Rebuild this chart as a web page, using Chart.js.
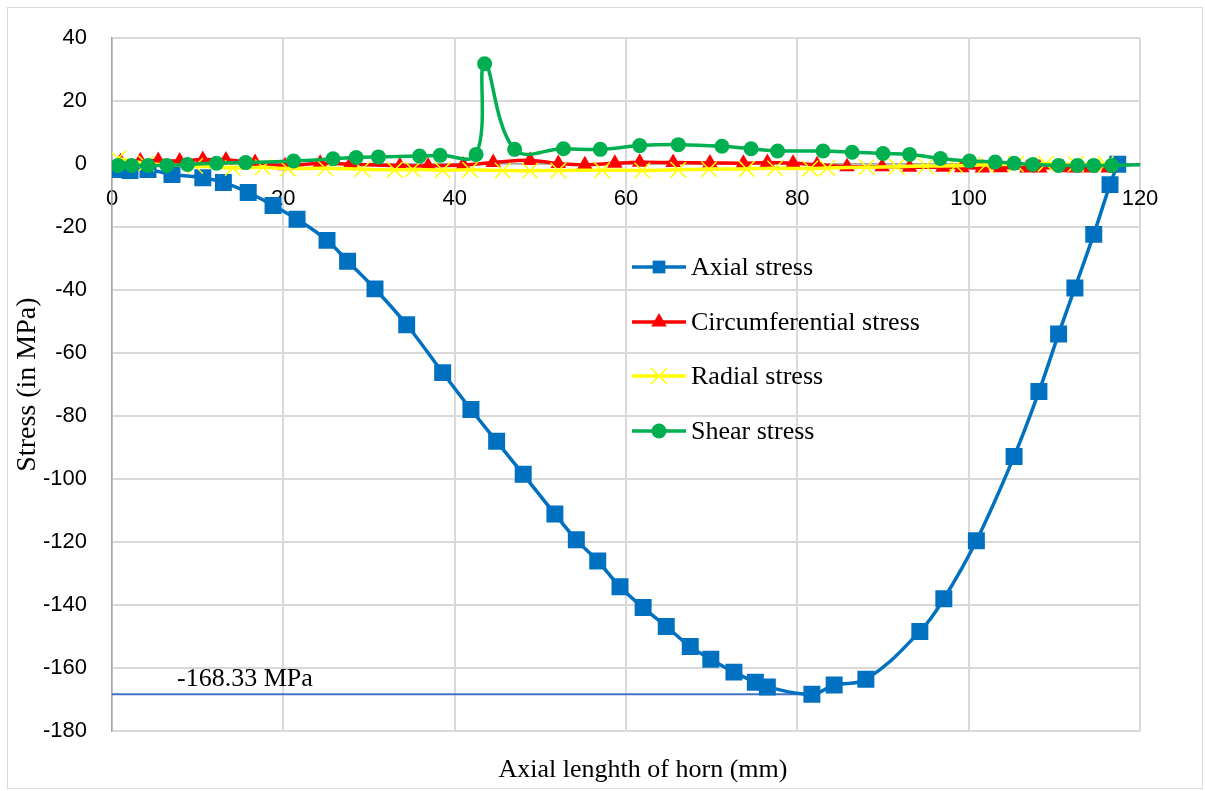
<!DOCTYPE html>
<html>
<head>
<meta charset="utf-8">
<script src="https://cdn.jsdelivr.net/npm/chart.js"></script>
<style>
    body { margin: 0; background: #fff; }
    #wrap { position: relative; width: 1205px; height: 791px; }
</style>
</head>
<body>
<div id="wrap"><canvas id="stress" width="1205" height="791"></canvas></div>
<script>
// values (x = axial position in mm, y = stress in MPa)
const axialX = [0.6, 2.1, 4.2, 7.0, 10.6, 13.0, 15.9, 18.8, 21.6, 25.1, 27.5, 30.7, 34.4, 38.6, 41.9, 44.9, 48.0, 51.7, 54.2, 56.7, 59.3, 62.0, 64.7, 67.5, 69.9, 72.6, 75.1, 76.5, 81.7, 84.3, 88.0, 94.3, 97.1, 100.9, 105.3, 108.2, 110.5, 112.4, 114.6, 116.5, 117.4]
const axialY = [-1.7, -2.0, -1.7, -3.3, -4.3, -5.8, -9.0, -13.1, -17.5, -24.2, -30.8, -39.6, -51.0, -66.2, -77.9, -88.0, -98.5, -111.1, -119.3, -126.0, -134.2, -140.8, -146.8, -153.2, -157.2, -161.3, -164.5, -166.0, -168.33, -165.4, -163.6, -148.4, -138.0, -119.6, -92.8, -72.2, -53.9, -39.3, -22.3, -6.5, 0.0]

const circX = [1.0, 3.3, 5.4, 7.9, 10.6, 13.3, 16.7, 20.2, 24.3, 27.8, 33.6, 36.9, 41.0, 44.5, 48.8, 52.1, 55.2, 58.7, 61.6, 65.5, 69.8, 73.7, 76.5, 79.5, 82.3, 85.8, 89.9, 93.1, 97.0, 99.2, 101.6, 103.7, 106.8, 108.3, 111.0, 112.4, 114.2, 116.3]
const circY = [0.8, 1.0, 1.2, 1.0, 1.5, 1.3, 0.5, -0.5, 0.3, 0.0, -0.5, -0.6, -0.3, 0.5, 1.2, 0.2, -0.2, 0.3, 0.6, 0.5, 0.4, 0.3, 0.5, 0.3, -0.2, -0.8, -0.8, -1.0, -1.0, -1.1, -1.2, -1.1, -1.2, -1.2, -1.1, -1.2, -1.2, -1.2]

const radialX = [0.7, 4.0, 9.7, 14.1, 17.6, 20.5, 24.9, 29.2, 33.0, 35.1, 38.6, 41.8, 45.6, 48.8, 52.1, 57.2, 61.9, 66.1, 69.7, 74.1, 77.4, 81.5, 83.5, 88.1, 91.6, 95.0, 98.5, 102.0, 105.5, 109.0, 112.5, 116.0]
const radialY = [1.8, 0.2, -0.6, -1.2, -1.0, -1.4, -1.3, -1.6, -1.8, -1.7, -1.9, -1.8, -2.0, -2.1, -2.0, -1.9, -2.0, -1.8, -1.6, -1.5, -1.3, -1.4, -1.2, -1.0, -0.8, -0.6, -0.5, -0.2, 0.0, 0.1, 0.0, 0.0]

const shearX = [0.7, 2.3, 4.2, 6.4, 8.8, 12.2, 15.6, 21.2, 25.8, 28.5, 31.1, 35.9, 38.3, 42.5, 43.5, 47.0, 52.7, 57.0, 61.6, 66.1, 71.2, 74.6, 77.7, 83.0, 86.4, 90.0, 93.1, 96.7, 100.1, 103.1, 105.3, 107.5, 110.5, 112.7, 114.6, 116.7, 120.0]
const shearY = [-0.4, -0.4, -0.4, -0.4, -0.1, 0.3, 0.5, 1.0, 1.7, 2.1, 2.3, 2.6, 2.8, 3.1, 31.9, 4.7, 4.9, 4.7, 5.9, 6.2, 5.7, 4.9, 4.2, 4.2, 3.8, 3.4, 3.1, 1.8, 1.0, 0.7, 0.3, -0.1, -0.4, -0.4, -0.4, -0.4, -0.2]

const minLineX = [0, 81.7]
const minLineY = [-168.33, -168.33]
const minLabel = '-168.33 MPa'

const seriesNames = ['Axial stress', 'Circumferential stress', 'Radial stress', 'Shear stress']
const seriesColors = ['#0070C0', '#FF0000', '#FFFF00', '#00B050']

const xTitle = 'Axial lenghth of horn (mm)'
const yTitle = 'Stress (in MPa)'

const toPoints = (xs, ys) => xs.map((x, i) => ({ x, y: ys[i] }))

const serif = '"Liberation Serif", "Times New Roman", serif'
const sans = '"Liberation Sans", Arial, sans-serif'

const legendItems = [
    { style: 'rect', radius: 9, width: 0 },
    { style: 'triangle', radius: 9, width: 0 },
    { style: 'crossRot', radius: 11, width: 1.5 },
    { style: 'circle', radius: 7.5, width: 0 }
]

const overlay = {
    id: 'overlay',
    afterDatasetsDraw(chart) {
        const ctx = chart.ctx
        ctx.save()

        // legend inside the plot
        const rows = [267, 322, 376, 431]
        legendItems.forEach((item, i) => {
            const y = rows[i]
            ctx.strokeStyle = seriesColors[i]
            ctx.fillStyle = seriesColors[i]
            ctx.lineWidth = 3.5
            ctx.beginPath()
            ctx.moveTo(632, y)
            ctx.lineTo(686, y)
            ctx.stroke()
            ctx.lineWidth = item.width || 1
            Chart.helpers.drawPoint(ctx, { pointStyle: item.style, radius: item.radius, borderWidth: item.width, rotation: 0 }, 659, y)
            ctx.fillStyle = '#000'
            ctx.font = '26px ' + serif
            ctx.textAlign = 'left'
            ctx.textBaseline = 'middle'
            ctx.fillText(seriesNames[i], 691, y + 1)
        })

        // minimum label
        ctx.fillStyle = '#000'
        ctx.font = '26px ' + serif
        ctx.textAlign = 'left'
        ctx.textBaseline = 'middle'
        ctx.fillText(minLabel, 177, 679)

        // x axis title at the bottom
        ctx.textAlign = 'center'
        ctx.fillText(xTitle, 643, 770)

        // outer frame
        ctx.strokeStyle = '#d9d9d9'
        ctx.lineWidth = 1
        ctx.strokeRect(7.5, 7.5, 1195, 781)
        ctx.restore()
    }
}

const markerSet = (color, style, radius, width) => ({
    borderColor: color,
    backgroundColor: color,
    pointBackgroundColor: color,
    pointBorderColor: color,
    pointStyle: style,
    pointRadius: radius,
    pointBorderWidth: width,
    borderWidth: 3.5,
    tension: 0.4
})

const ctx = document.getElementById('stress')
const chart = new Chart(ctx, {
    type: 'line',
    data: {
        datasets: [
            {
                label: 'min',
                data: toPoints(minLineX, minLineY),
                borderColor: '#4472C4',
                borderWidth: 2,
                pointRadius: 0,
                tension: 0,
                order: 5
            },
            { label: seriesNames[0], data: toPoints(axialX, axialY), ...markerSet(seriesColors[0], 'rect', 12, 0), order: 4 },
            { label: seriesNames[1], data: toPoints(circX, circY), ...markerSet(seriesColors[1], 'triangle', 9, 0), order: 3 },
            { label: seriesNames[2], data: toPoints(radialX, radialY), ...markerSet(seriesColors[2], 'crossRot', 11, 1.5), order: 2 },
            {
                label: seriesNames[3],
                data: toPoints(shearX, shearY),
                ...markerSet(seriesColors[3], 'circle', 7.5, 0),
                pointRadius: (c) => (c.dataIndex === shearX.length - 1 ? 0 : 7.5),
                order: 1
            }
        ]
    },
    options: {
        responsive: false,
        animation: false,
        layout: { padding: { left: 0, top: 35, right: 65, bottom: 60 } },
        plugins: {
            legend: { display: false },
            tooltip: { enabled: false }
        },
        scales: {
            x: {
                type: 'linear',
                position: { y: 0 },
                min: 0,
                max: 120,
                afterFit: (scale) => { scale.height = 0 },
                ticks: {
                    stepSize: 20,
                    autoSkip: false,
                    maxRotation: 0,
                    padding: 22,
                    color: '#000',
                    font: { family: sans, size: 22 }
                },
                grid: { color: '#d9d9d9', lineWidth: 2, drawTicks: false },
                border: { color: '#a6a6a6', width: 1.5 }
            },
            y: {
                min: -180,
                max: 40,
                afterFit: (scale) => { scale.width = 112 },
                ticks: {
                    stepSize: 20,
                    padding: 25,
                    color: '#000',
                    font: { family: sans, size: 22 }
                },
                grid: { color: '#d9d9d9', lineWidth: 2, drawTicks: false },
                border: { color: '#a6a6a6', width: 1.5 },
                title: {
                    display: true,
                    text: yTitle,
                    color: '#000',
                    font: { family: serif, size: 28 },
                    padding: { top: 11 }
                }
            }
        }
    },
    plugins: [overlay]
})
</script>
</body>
</html>
